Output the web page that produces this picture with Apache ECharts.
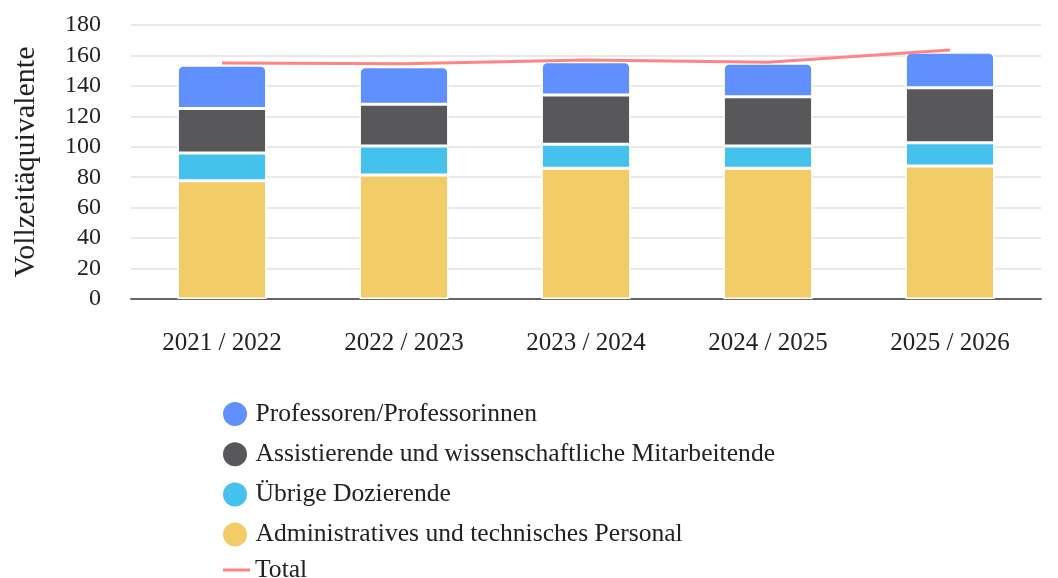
<!DOCTYPE html>
<html>
<head>
<meta charset="utf-8">
<script src="https://cdn.jsdelivr.net/npm/echarts@6/dist/echarts.min.js"></script>
<style>
html, body { margin: 0; padding: 0; background: #fff; }
#chart { width: 1058px; height: 578px; }
</style>
</head>
<body>
<div id="chart"></div>
<script>
var years = ['2021 / 2022', '2022 / 2023', '2023 / 2024', '2024 / 2025', '2025 / 2026'];
var admin = [77.7, 81.5, 85.9, 85.9, 87.4];
var uebrige = [18.2, 19.0, 15.7, 14.6, 15.3];
var assist = [29.3, 27.4, 32.4, 32.4, 36.1];
var prof = [28.4, 24.7, 21.9, 22.0, 23.3];
var total = [155.0, 154.5, 157.0, 155.5, 163.5];

var font = 'Liberation Serif';

var chartDom = document.getElementById('chart');
var myChart = echarts.init(chartDom);
var option;

function barSeries(name, data, color, top) {
    return {
        name: name,
        type: 'bar',
        stack: 'fte',
        data: data,
        barWidth: '49%',
        itemStyle: {
            color: color,
            borderColor: '#fff',
            borderWidth: 1.5,
            borderRadius: top ? [5, 5, 0, 0] : 0
        }
    };
}

var legendText = { fontFamily: font, fontSize: 25.6, color: '#222', lineHeight: 26 };

option = {
    animation: false,
    textStyle: { fontFamily: font },
    grid: {
        left: 131,
        right: 17,
        top: 25,
        bottom: 279
    },
    legend: [
        {
            orient: 'vertical',
            left: 216,
            top: 395,
            itemWidth: 31,
            itemHeight: 26,
            itemGap: 12.2,
            textStyle: legendText,
            data: [
                { name: 'Professoren/Professorinnen', icon: 'circle' },
                { name: 'Assistierende und wissenschaftliche Mitarbeitende', icon: 'circle' },
                { name: 'Übrige Dozierende', icon: 'circle' },
                { name: 'Administratives und technisches Personal', icon: 'circle' }
            ]
        },
        {
            orient: 'vertical',
            left: 218,
            top: 552,
            itemWidth: 27,
            itemHeight: 3,
            textStyle: legendText,
            data: [{ name: 'Total', icon: 'rect' }]
        }
    ],
    xAxis: {
        type: 'category',
        data: years,
        axisTick: { show: false },
        axisLine: { lineStyle: { color: '#666', width: 2 } },
        axisLabel: { fontFamily: font, fontSize: 25, color: '#222', margin: 32 }
    },
    yAxis: {
        type: 'value',
        min: 0,
        max: 180,
        interval: 20,
        name: 'Vollzeitäquivalente',
        nameLocation: 'middle',
        nameGap: 90,
        nameTextStyle: { fontFamily: font, fontSize: 30, color: '#222' },
        axisLine: { show: false },
        axisTick: { show: false },
        axisLabel: { fontFamily: font, fontSize: 24, color: '#222', margin: 30 },
        splitLine: { lineStyle: { color: '#e8e8e8', width: 2 } }
    },
    series: [
        barSeries('Administratives und technisches Personal', admin, '#f2cd67', false),
        barSeries('Übrige Dozierende', uebrige, '#45c1ee', false),
        barSeries('Assistierende und wissenschaftliche Mitarbeitende', assist, '#58585a', false),
        barSeries('Professoren/Professorinnen', prof, '#608ffe', true),
        {
            name: 'Total',
            type: 'line',
            data: total,
            symbol: 'none',
            z: 5,
            lineStyle: { color: '#ff8585', width: 3 },
            itemStyle: { color: '#ff8585' }
        }
    ]
};

option && myChart.setOption(option);
</script>
</body>
</html>
